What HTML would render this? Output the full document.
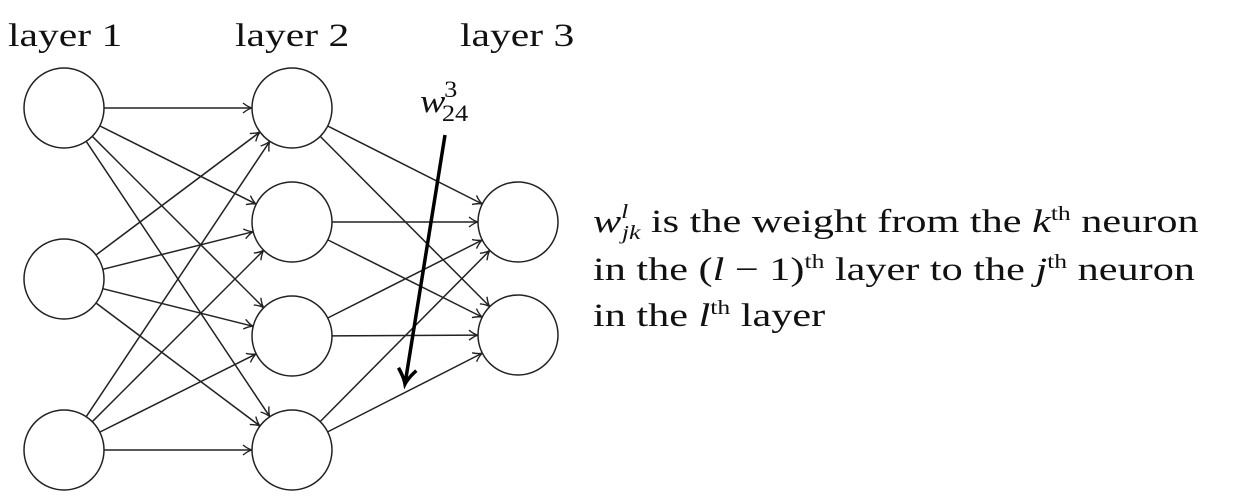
<!DOCTYPE html>
<html><head><meta charset="utf-8"><style>
body{margin:0;background:#fff;width:1236px;height:498px;overflow:hidden}
svg{position:absolute;left:0;top:0}
text{font-family:"Liberation Serif",serif;fill:#111}
</style></head><body>
<svg id="s" width="1236" height="498" xmlns="http://www.w3.org/2000/svg">
<defs>
<marker id="a" markerWidth="12" markerHeight="12" refX="10" refY="6" orient="auto" markerUnits="userSpaceOnUse">
<path d="M1,1 Q6,5 10,6 Q6,7 1,11" fill="none" stroke="#222" stroke-width="1.4"/></marker>
<marker id="b" markerWidth="24" markerHeight="24" refX="18" refY="12" orient="auto" markerUnits="userSpaceOnUse">
<path d="M3,3 Q12,10 18,12 Q12,14 3,21" fill="none" stroke="#000" stroke-width="3.5"/></marker>
</defs>
<g id="g" stroke="#222" stroke-width="1.5" fill="none"></g>
<g font-size="33">
<text transform="translate(8,46) scale(1.26,1)">layer 1</text>
<text transform="translate(235,46) scale(1.26,1)">layer 2</text>
<text transform="translate(460,46) scale(1.26,1)">layer 3</text>
</g>
<g transform="translate(420,0) scale(1.15,1)">
<text x="0" y="112" font-size="33" font-style="italic">w</text>
<text x="21" y="97" font-size="23">3</text>
<text x="19" y="121" font-size="23">24</text>
</g>
<line x1="445" y1="135" x2="405" y2="384" stroke="#000" stroke-width="3.5" marker-end="url(#b)"/>
<g font-size="33">
<text transform="translate(593,232) scale(1.28,1)"><tspan font-style="italic">w</tspan><tspan font-size="20" font-style="italic" dy="-14">l</tspan><tspan font-size="20" font-style="italic" dx="-5" dy="21">jk</tspan><tspan dy="-7"> is the weight from the </tspan><tspan font-style="italic">k</tspan><tspan font-size="20" dy="-12">th</tspan><tspan dy="12"> neuron</tspan></text>
<text transform="translate(593,280) scale(1.28,1)">in the (<tspan font-style="italic">l</tspan> − 1)<tspan font-size="20" dy="-12">th</tspan><tspan dy="12"> layer to the </tspan><tspan font-style="italic">j</tspan><tspan font-size="20" dy="-12">th</tspan><tspan dy="12"> neuron</tspan></text>
<text transform="translate(593,326) scale(1.28,1)">in the <tspan font-style="italic">l</tspan><tspan font-size="20" dy="-12">th</tspan><tspan dy="12"> layer</tspan></text>
</g>
</svg>
<script>
var L=[[[64,108],[64,279],[64,450]],[[292,108],[292,222],[292,336],[292,450]],[[518,222],[518,335]]];
var g=document.getElementById('g'),ns='http://www.w3.org/2000/svg',r=40;
for(var l=0;l<2;l++)for(var i=0;i<L[l].length;i++)for(var j=0;j<L[l+1].length;j++){
var a=L[l][i],b=L[l+1][j],dx=b[0]-a[0],dy=b[1]-a[1],d=Math.hypot(dx,dy);
var e=document.createElementNS(ns,'line');
e.setAttribute('x1',a[0]+dx/d*r);e.setAttribute('y1',a[1]+dy/d*r);
e.setAttribute('x2',b[0]-dx/d*r);e.setAttribute('y2',b[1]-dy/d*r);
e.setAttribute('marker-end','url(#a)');g.appendChild(e);}
L.forEach(function(c){c.forEach(function(p){var e=document.createElementNS(ns,'circle');
e.setAttribute('cx',p[0]);e.setAttribute('cy',p[1]);e.setAttribute('r',r);e.setAttribute('fill','#fff');g.appendChild(e);});});
</script>
</body></html>
